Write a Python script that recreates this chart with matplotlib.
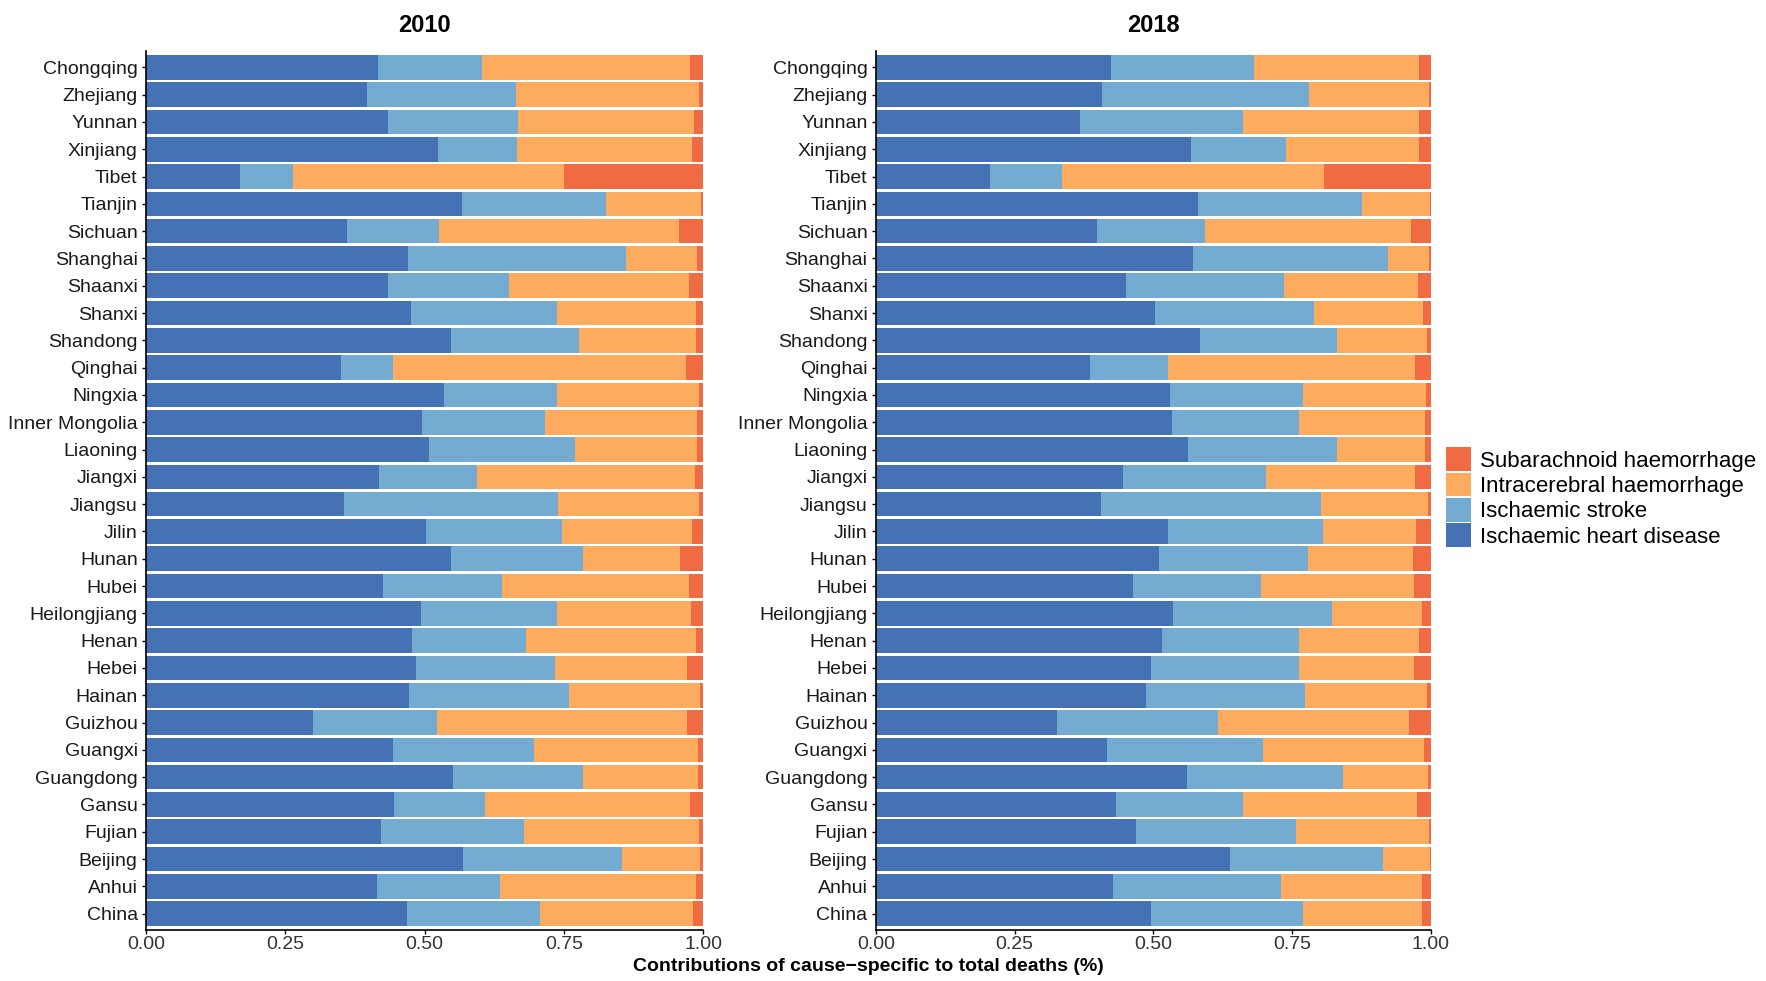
import numpy as np
import matplotlib.pyplot as plt
from matplotlib.patches import Patch

# provinces, top to bottom as drawn
regions = ['Chongqing', 'Zhejiang', 'Yunnan', 'Xinjiang', 'Tibet', 'Tianjin', 'Sichuan',
           'Shanghai', 'Shaanxi', 'Shanxi', 'Shandong', 'Qinghai', 'Ningxia',
           'Inner Mongolia', 'Liaoning', 'Jiangxi', 'Jiangsu', 'Jilin', 'Hunan', 'Hubei',
           'Heilongjiang', 'Henan', 'Hebei', 'Hainan', 'Guizhou', 'Guangxi', 'Guangdong',
           'Gansu', 'Fujian', 'Beijing', 'Anhui', 'China']

causes = ['Ischaemic heart disease', 'Ischaemic stroke',
          'Intracerebral haemorrhage', 'Subarachnoid haemorrhage']

# shares of total deaths, 2010
ihd_2010 = [0.416, 0.397, 0.435, 0.525, 0.169, 0.568, 0.361, 0.471, 0.434, 0.475, 0.547,
            0.350, 0.535, 0.496, 0.508, 0.418, 0.356, 0.502, 0.547, 0.426, 0.494, 0.477,
            0.484, 0.472, 0.300, 0.443, 0.551, 0.445, 0.422, 0.569, 0.414, 0.469]
is_2010 = [0.187, 0.267, 0.233, 0.141, 0.095, 0.258, 0.165, 0.391, 0.217, 0.262, 0.230,
           0.094, 0.202, 0.220, 0.263, 0.177, 0.384, 0.245, 0.238, 0.213, 0.244, 0.206,
           0.250, 0.287, 0.223, 0.253, 0.233, 0.164, 0.257, 0.286, 0.221, 0.238]
ich_2010 = [0.374, 0.329, 0.316, 0.314, 0.486, 0.170, 0.431, 0.127, 0.324, 0.251, 0.211,
            0.526, 0.255, 0.274, 0.218, 0.390, 0.252, 0.234, 0.174, 0.335, 0.241, 0.304,
            0.238, 0.235, 0.449, 0.295, 0.207, 0.368, 0.314, 0.140, 0.353, 0.275]
sah_2010 = [0.023, 0.007, 0.016, 0.020, 0.250, 0.004, 0.043, 0.011, 0.025, 0.012, 0.012,
            0.030, 0.008, 0.010, 0.011, 0.015, 0.008, 0.019, 0.041, 0.026, 0.021, 0.013,
            0.028, 0.006, 0.028, 0.009, 0.009, 0.023, 0.007, 0.005, 0.012, 0.018]

# shares of total deaths, 2018
ihd_2018 = [0.423, 0.407, 0.368, 0.567, 0.205, 0.580, 0.398, 0.572, 0.451, 0.502, 0.583,
            0.385, 0.530, 0.534, 0.562, 0.445, 0.405, 0.527, 0.510, 0.464, 0.535, 0.515,
            0.495, 0.487, 0.326, 0.416, 0.560, 0.432, 0.469, 0.638, 0.428, 0.496]
is_2018 = [0.259, 0.373, 0.294, 0.171, 0.131, 0.296, 0.195, 0.350, 0.285, 0.287, 0.248,
           0.141, 0.239, 0.228, 0.269, 0.257, 0.396, 0.279, 0.269, 0.229, 0.286, 0.247,
           0.267, 0.286, 0.291, 0.282, 0.282, 0.230, 0.287, 0.275, 0.302, 0.273]
ich_2018 = [0.297, 0.216, 0.316, 0.240, 0.471, 0.122, 0.371, 0.075, 0.240, 0.196, 0.162,
            0.446, 0.222, 0.228, 0.159, 0.270, 0.193, 0.167, 0.189, 0.276, 0.162, 0.216,
            0.207, 0.220, 0.343, 0.290, 0.152, 0.312, 0.240, 0.085, 0.254, 0.214]
sah_2018 = [0.021, 0.004, 0.022, 0.022, 0.193, 0.002, 0.036, 0.003, 0.024, 0.015, 0.007,
            0.028, 0.009, 0.010, 0.010, 0.028, 0.006, 0.027, 0.032, 0.031, 0.017, 0.022,
            0.031, 0.007, 0.040, 0.012, 0.006, 0.026, 0.004, 0.002, 0.016, 0.017]

colors = ['#4472b4', '#74abd1', '#fcab5f', '#f06b42']

plt.rcParams['font.family'] = ['Liberation Sans', 'DejaVu Sans']
plt.rcParams['axes.linewidth'] = 1.2

fig = plt.figure(figsize=(17.66, 9.81), dpi=100)
ax1 = fig.add_axes([0.0827, 0.052, 0.3154, 0.896])
ax2 = fig.add_axes([0.4960, 0.052, 0.3143, 0.896])

panels = [(ax1, '2010', [ihd_2010, is_2010, ich_2010, sah_2010]),
          (ax2, '2018', [ihd_2018, is_2018, ich_2018, sah_2018])]

y = np.arange(len(regions))
for ax, year, series in panels:
    left = np.zeros(len(regions))
    for vals, c in zip(series, colors):
        vals = np.array(vals)
        ax.barh(y, vals, left=left, height=0.9, color=c, edgecolor='none')
        left += vals
    ax.set_ylim(len(regions) - 0.4, -0.6)
    ax.set_xlim(0, 1.0)
    ax.set_yticks(y)
    ax.set_yticklabels(regions, fontsize=14, color='#1a1a1a')
    ax.set_xticks([0, 0.25, 0.5, 0.75, 1.0])
    ax.set_xticklabels(['0.00', '0.25', '0.50', '0.75', '1.00'], fontsize=14, color='#333333')
    ax.tick_params(axis='x', length=3, width=1, pad=1)
    ax.tick_params(axis='y', length=3, width=1, pad=3)
    ax.spines['top'].set_visible(False)
    ax.spines['right'].set_visible(False)
    ax.set_title(year, fontsize=17, fontweight='bold', pad=14)

fig.text(0.492, 0.015, 'Contributions of cause\u2212specific to total deaths (%)',
         ha='center', va='center', fontsize=14, fontweight='bold')

handles = [Patch(facecolor=colors[i], edgecolor='none', label=causes[i]) for i in [3, 2, 1, 0]]
fig.legend(handles=handles, loc='upper left', bbox_to_anchor=(0.814, 0.553),
           frameon=False, handlelength=1.1, handleheight=1.25,
           handletextpad=0.4, labelspacing=0.05, borderaxespad=0,
           prop={'size': 16})

plt.savefig('out.png', dpi=100)
plt.close()
